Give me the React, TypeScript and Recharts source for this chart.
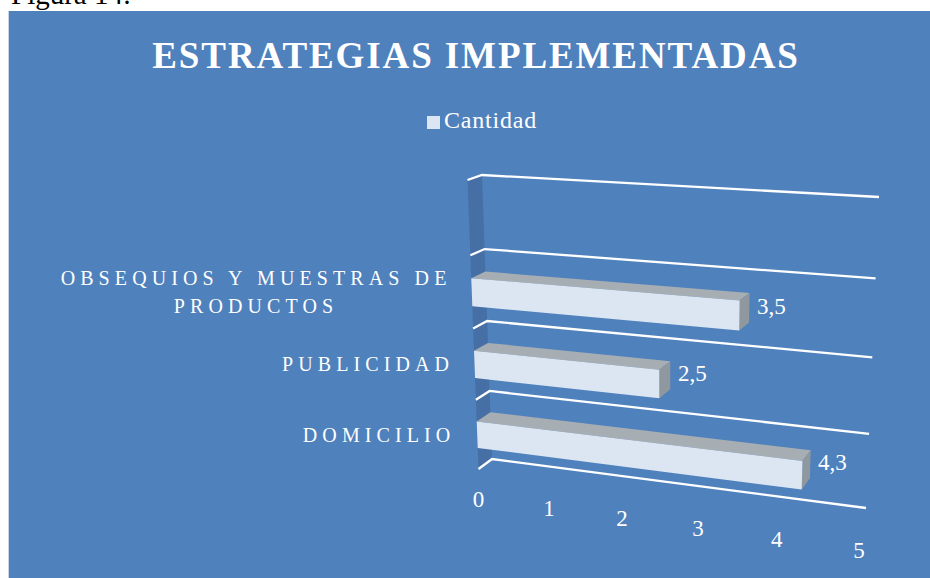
import React from "react";
import { BarChart, Bar, XAxis, YAxis, CartesianGrid, Legend, LabelList } from "recharts";

const CATEGORIES = ["", "OBSEQUIOS Y MUESTRAS DE PRODUCTOS", "PUBLICIDAD", "DOMICILIO"];
const CANTIDAD = [null, 3.5, 2.5, 4.3];
const X_TICKS = [0, 1, 2, 3, 4, 5];
const CATEGORY_LINES: Record<string, string[]> = {
  "OBSEQUIOS Y MUESTRAS DE PRODUCTOS": ["OBSEQUIOS Y MUESTRAS DE", "PRODUCTOS"],
};

const data = CATEGORIES.map((categoria, i) => ({ categoria, cantidad: CANTIDAD[i] }));

const W = 930;
const H = 578;
const PLOT = { left: 480, top: 175, width: 390, height: 303 };
const SERIF = "'Liberation Serif', serif";

type Pt = [number, number];

// square -> quad homography, used to fake Excel's 3D perspective
function makeHomography(p0: Pt, p1: Pt, p2: Pt, p3: Pt) {
  const dx1 = p1[0] - p2[0];
  const dx2 = p3[0] - p2[0];
  const sx = p0[0] - p1[0] + p2[0] - p3[0];
  const dy1 = p1[1] - p2[1];
  const dy2 = p3[1] - p2[1];
  const sy = p0[1] - p1[1] + p2[1] - p3[1];
  const den = dx1 * dy2 - dx2 * dy1;
  const g = (sx * dy2 - dx2 * sy) / den;
  const h = (dx1 * sy - sx * dy1) / den;
  const a = p1[0] - p0[0] + g * p1[0];
  const b = p3[0] - p0[0] + h * p3[0];
  const d = p1[1] - p0[1] + g * p1[1];
  const e = p3[1] - p0[1] + h * p3[1];
  return (u: number, v: number): Pt => {
    const w = g * u + h * v + 1;
    return [(a * u + b * v + p0[0]) / w, (d * u + e * v + p0[1]) / w];
  };
}

const backPlane = makeHomography([482, 175], [879, 197], [866, 508], [492, 459]);
const frontPlane = makeHomography([467.5, 180], [871, 203], [859, 520], [478.5, 469]);

const toU = (x: number) => (x - PLOT.left) / PLOT.width;
const toV = (y: number) => (y - PLOT.top) / PLOT.height;
const pts = (list: Pt[]) => list.map((p) => `${p[0]},${p[1]}`).join(" ");

function Bar3D(props: any) {
  const { x, y, width, height } = props;
  if (!width || !height) return null;
  const u0 = toU(x);
  const u1 = toU(x + width);
  const v0 = toV(y);
  const v1 = toV(y + height);
  return (
    <g>
      <polygon points={pts([frontPlane(u0, v0), backPlane(u0, v0), backPlane(u1, v0), frontPlane(u1, v0)])} fill="#a6adb3" />
      <polygon points={pts([frontPlane(u1, v0), backPlane(u1, v0), backPlane(u1, v1), frontPlane(u1, v1)])} fill="#8f989e" />
      <polygon points={pts([frontPlane(u0, v0), frontPlane(u1, v0), frontPlane(u1, v1), frontPlane(u0, v1)])} fill="#dce6f2" />
    </g>
  );
}

function GridLine(props: any) {
  const v = toV(props.y1);
  return (
    <g>
      {/* the side wall goes in with the first line so every line sits on top of it */}
      {props.index === 0 && (
        <polygon points={pts([frontPlane(0, 0), backPlane(0, 0), backPlane(0, 1), frontPlane(0, 1)])} fill="#466fa5" />
      )}
      <polyline
        points={pts([frontPlane(0, v), backPlane(0, v), backPlane(1, v)])}
        fill="none"
        stroke="#ffffff"
        strokeWidth={2.3}
      />
    </g>
  );
}

function ValueTick(props: any) {
  const [px, py] = frontPlane(toU(props.x), 1);
  return (
    <text x={px} y={py + 38} textAnchor="middle" fill="#fff" fontSize={23} fontFamily={SERIF}>
      {props.payload.value}
    </text>
  );
}

function CategoryTick(props: any) {
  const label: string = props.payload.value;
  if (!label) return null;
  const lines = CATEGORY_LINES[label] ?? [label];
  const [px, py] = frontPlane(0, toV(props.y));
  const longest = Math.max(...lines.map((l) => l.length));
  const cx = px - 22.5 - (longest * 16.8) / 2;
  return (
    <text textAnchor="middle" fill="#fff" fontSize={20} letterSpacing={5.1} fontFamily={SERIF}>
      {lines.map((line, i) => (
        <tspan key={line} x={cx} y={py + 7 + (i - (lines.length - 1) / 2) * 28}>
          {line}
        </tspan>
      ))}
    </text>
  );
}

function ValueLabel(props: any) {
  const { x, y, width, height, value } = props;
  if (value == null) return null;
  const [px, py] = backPlane(toU(x + width), toV(y + height / 2));
  return (
    <text x={px + 22} y={py + 6} textAnchor="middle" fill="#fff" fontSize={23} fontFamily={SERIF}>
      {String(value).replace(".", ",")}
    </text>
  );
}

export default function App() {
  return (
    <div style={{ position: "absolute", left: 0, top: 0, width: W, height: H, overflow: "hidden", background: "#fff" }}>
      <div style={{ position: "absolute", left: 11, top: -23, fontFamily: SERIF, fontSize: 29, color: "#000", lineHeight: "34px" }}>
        Figura 14:
      </div>
      <div style={{ position: "absolute", left: 8, top: 11, right: 0, bottom: 0, background: "#4f81bd", borderLeft: "1px solid #c8d5e6" }} />
      <div
        style={{
          position: "absolute",
          left: 0,
          width: W + 22,
          top: 32,
          textAlign: "center",
          fontFamily: SERIF,
          fontWeight: 700,
          fontSize: 37,
          letterSpacing: 1.9,
          color: "#fff",
          lineHeight: "48px",
          whiteSpace: "nowrap",
        }}
      >
        ESTRATEGIAS IMPLEMENTADAS
      </div>
      <div style={{ position: "absolute", left: 0, top: 0 }}>
        <BarChart
          width={W}
          height={H}
          data={data}
          layout="vertical"
          barCategoryGap="31%"
          margin={{ top: PLOT.top, right: W - PLOT.left - PLOT.width, bottom: 70, left: 0 }}
        >
          <CartesianGrid
            vertical={false}
            horizontal={GridLine as any}
            horizontalCoordinatesGenerator={() => CATEGORIES.concat("").map((_, i) => PLOT.top + (i * PLOT.height) / CATEGORIES.length)}
          />
          <XAxis type="number" domain={[0, 5]} ticks={X_TICKS} axisLine={false} tickLine={false} height={30} tick={ValueTick} />
          <YAxis type="category" dataKey="categoria" width={PLOT.left} axisLine={false} tickLine={false} interval={0} tick={CategoryTick} />
          <Legend
            layout="horizontal"
            verticalAlign="middle"
            align="center"
            iconType="square"
            iconSize={13}
            wrapperStyle={{ top: 107, left: 417, width: 140, fontFamily: SERIF, fontSize: 24, letterSpacing: 0.8 }}
            formatter={(value: string) => <span style={{ color: "#fff" }}>{value}</span>}
          />
          <Bar dataKey="cantidad" name="Cantidad" fill="#dce6f2" shape={Bar3D} isAnimationActive={false}>
            <LabelList dataKey="cantidad" content={ValueLabel} />
          </Bar>
        </BarChart>
      </div>
    </div>
  );
}
